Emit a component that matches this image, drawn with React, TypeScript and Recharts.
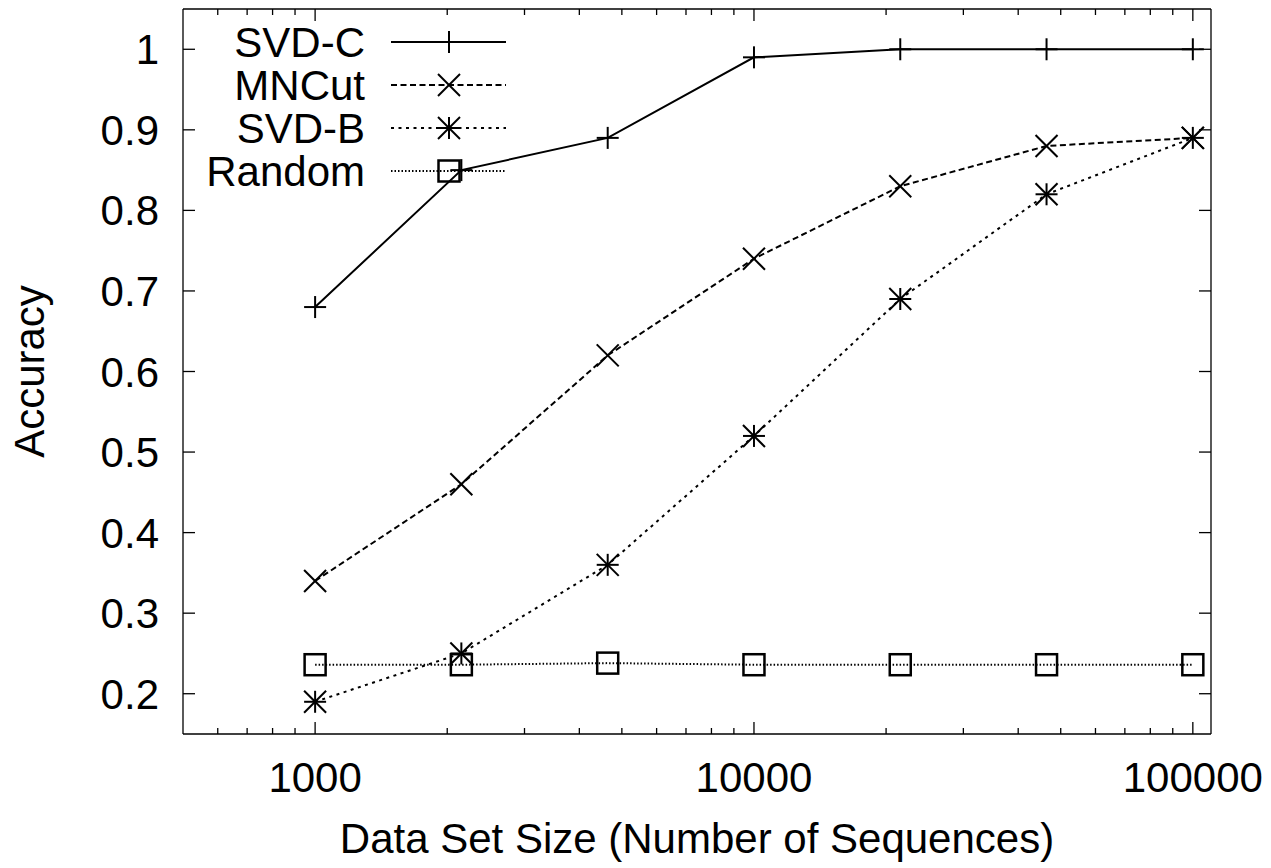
import React from 'react';
import { LineChart, Line, XAxis, YAxis, Legend } from 'recharts';

const sizes = [1000, 2154, 4642, 10000, 21544, 46416, 100000];
const svdC = [0.68, 0.85, 0.89, 0.99, 1.0, 1.0, 1.0];
const mnCut = [0.34, 0.46, 0.62, 0.74, 0.83, 0.88, 0.89];
const svdB = [0.19, 0.25, 0.36, 0.52, 0.69, 0.82, 0.89];
const random = [0.236, 0.236, 0.238, 0.236, 0.236, 0.236, 0.236];

const majorX = [1000, 10000, 100000];
const minorX = [600, 700, 800, 900, 2000, 3000, 4000, 5000, 6000, 7000, 8000, 9000,
  20000, 30000, 40000, 50000, 60000, 70000, 80000, 90000];
const yTicks = [0.2, 0.3, 0.4, 0.5, 0.6, 0.7, 0.8, 0.9, 1];

const series = [
  { key: 'svdC', name: 'SVD-C', marker: 'plus', dash: undefined as string | undefined },
  { key: 'mnCut', name: 'MNCut', marker: 'cross', dash: '6 3.5' },
  { key: 'svdB', name: 'SVD-B', marker: 'star', dash: '3 4.5' },
  { key: 'random', name: 'Random', marker: 'square', dash: '1.5 2' },
];

const data = sizes.map((s, i) => ({
  size: s,
  svdC: svdC[i],
  mnCut: mnCut[i],
  svdB: svdB[i],
  random: random[i],
}));

const FONT = '"Liberation Sans", Arial, Helvetica, sans-serif';
const FS = 42;
const ink = { stroke: '#000', strokeWidth: 2, fill: 'none' };

function Marker({ kind, cx, cy }: { kind: string; cx: number; cy: number }) {
  const r = 11;
  const plus = (
    <>
      <line x1={cx - r} y1={cy} x2={cx + r} y2={cy} {...ink} />
      <line x1={cx} y1={cy - r} x2={cx} y2={cy + r} {...ink} />
    </>
  );
  const cross = (
    <>
      <line x1={cx - r} y1={cy - r} x2={cx + r} y2={cy + r} {...ink} />
      <line x1={cx - r} y1={cy + r} x2={cx + r} y2={cy - r} {...ink} />
    </>
  );
  if (kind === 'plus') return <g>{plus}</g>;
  if (kind === 'cross') return <g>{cross}</g>;
  if (kind === 'star') return <g>{plus}{cross}</g>;
  return <rect x={cx - 10.5} y={cy - 10.5} width={21} height={21} stroke="#000" strokeWidth={2.5} fill="none" />;
}

const tickStroke = { stroke: '#000', strokeWidth: 1.3 };

const BottomTick = (p: any) => {
  const v = p.payload.value;
  const major = majorX.includes(v);
  return (
    <g>
      <line x1={p.x} y1={p.y} x2={p.x} y2={p.y - (major ? 12 : 6)} {...tickStroke} />
      {major && (
        <text x={p.x} y={p.y + 58} textAnchor="middle" fontSize={FS} fontFamily={FONT} fill="#000">
          {v}
        </text>
      )}
    </g>
  );
};

const TopTick = (p: any) => {
  const major = majorX.includes(p.payload.value);
  return <line x1={p.x} y1={p.y} x2={p.x} y2={p.y + (major ? 12 : 6)} {...tickStroke} />;
};

const LeftTick = (p: any) => (
  <g>
    <line x1={p.x} y1={p.y} x2={p.x + 12} y2={p.y} {...tickStroke} />
    <text x={p.x - 24} y={p.y + 15} textAnchor="end" fontSize={FS} fontFamily={FONT} fill="#000">
      {p.payload.value}
    </text>
  </g>
);

const RightTick = (p: any) => <line x1={p.x} y1={p.y} x2={p.x - 12} y2={p.y} {...tickStroke} />;

const renderLegend = () => (
  <svg width={520} height={200} style={{ display: 'block' }}>
    {series.map((s, i) => {
      const cy = 42 + i * 43;
      return (
        <g key={s.key}>
          <text x={365} y={cy + 15} textAnchor="end" fontSize={FS} fontFamily={FONT} fill="#000">
            {s.name}
          </text>
          <line x1={391} y1={cy} x2={506} y2={cy} stroke="#000" strokeWidth={2} strokeDasharray={s.dash} />
          <Marker kind={s.marker} cx={449} cy={cy} />
        </g>
      );
    })}
  </svg>
);

export default function App() {
  return (
    <div style={{ position: 'absolute', left: 0, top: 0, background: '#fff' }}>
      <LineChart width={1271} height={868} data={data} margin={{ top: 0, right: 0, bottom: 0, left: 0 }}>
        <XAxis
          dataKey="size"
          type="number"
          scale="log"
          domain={[500, 110000]}
          allowDataOverflow
          ticks={[...majorX, ...minorX]}
          interval={0}
          height={134}
          tickSize={0}
          tickMargin={0}
          tickLine={false}
          axisLine={{ stroke: '#000', strokeWidth: 1.3 }}
          tick={(p: any) => <BottomTick {...p} />}
          label={{
            content: (lp: any) => (
              <text
                x={lp.viewBox.x + lp.viewBox.width / 2}
                y={853}
                textAnchor="middle"
                fontSize={FS}
                fontFamily={FONT}
                fill="#000"
              >
                Data Set Size (Number of Sequences)
              </text>
            ),
          }}
        />
        <XAxis
          xAxisId="top"
          orientation="top"
          dataKey="size"
          type="number"
          scale="log"
          domain={[500, 110000]}
          allowDataOverflow
          ticks={[...majorX, ...minorX]}
          interval={0}
          height={9}
          tickSize={0}
          tickMargin={0}
          tickLine={false}
          axisLine={{ stroke: '#000', strokeWidth: 1.3 }}
          tick={(p: any) => <TopTick {...p} />}
        />
        <YAxis
          type="number"
          domain={[0.15, 1.05]}
          allowDataOverflow
          ticks={yTicks}
          interval={0}
          width={183}
          tickSize={0}
          tickMargin={0}
          tickLine={false}
          axisLine={{ stroke: '#000', strokeWidth: 1.3 }}
          tick={(p: any) => <LeftTick {...p} />}
          label={{
            content: (lp: any) => (
              <text
                transform={`translate(44, ${lp.viewBox.y + lp.viewBox.height / 2}) rotate(-90)`}
                textAnchor="middle"
                fontSize={FS}
                fontFamily={FONT}
                fill="#000"
              >
                Accuracy
              </text>
            ),
          }}
        />
        <YAxis
          yAxisId="right"
          orientation="right"
          type="number"
          domain={[0.15, 1.05]}
          allowDataOverflow
          ticks={yTicks}
          interval={0}
          width={60}
          tickSize={0}
          tickMargin={0}
          tickLine={false}
          axisLine={{ stroke: '#000', strokeWidth: 1.3 }}
          tick={(p: any) => <RightTick {...p} />}
        />
        <Legend
          layout="vertical"
          align="center"
          verticalAlign="middle"
          content={renderLegend}
          wrapperStyle={{ position: 'absolute', left: 0, top: 0, width: 520, height: 200 }}
        />
        {series.map((s) => (
          <Line
            key={s.key}
            dataKey={s.key}
            name={s.name}
            type="linear"
            stroke="#000"
            strokeWidth={2}
            strokeDasharray={s.dash}
            isAnimationActive={false}
            dot={(p: any) => <Marker key={`${s.key}-${p.index}`} kind={s.marker} cx={p.cx} cy={p.cy} />}
            activeDot={false}
          />
        ))}
      </LineChart>
    </div>
  );
}
